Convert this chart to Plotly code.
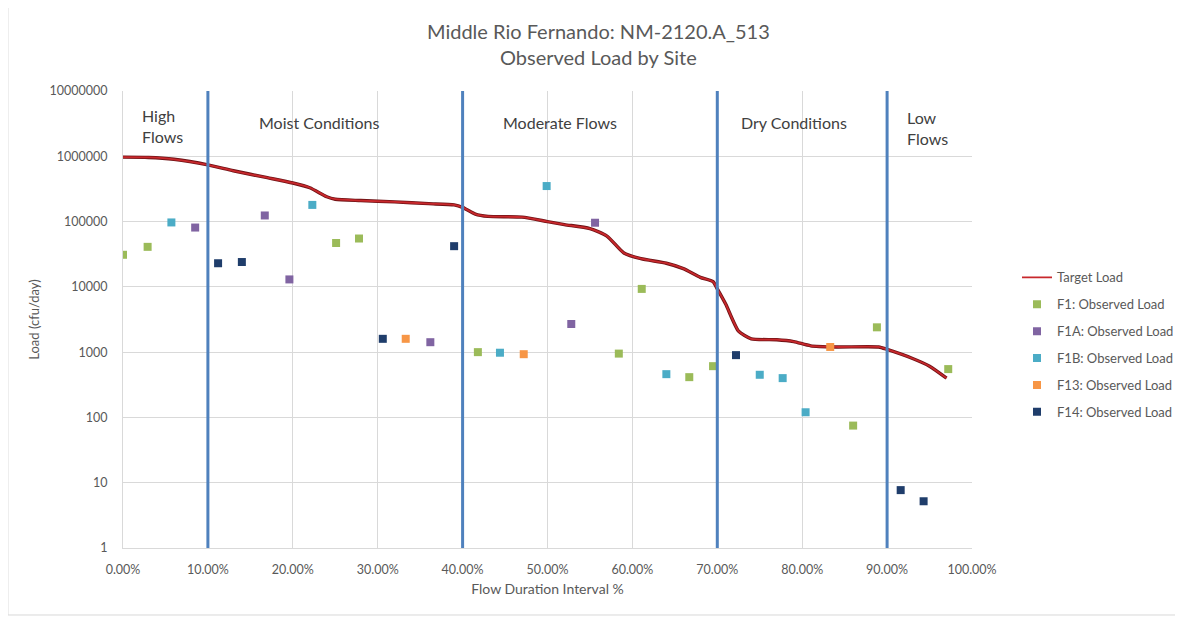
import math
import plotly.graph_objects as go

# ---- data ----
target_x = [0.0, 0.03, 0.06, 0.10, 0.13, 0.17, 0.20, 0.22, 0.24, 0.25, 0.28, 0.32, 0.36, 0.39,
            0.40, 0.415, 0.43, 0.47, 0.50, 0.52, 0.55, 0.57, 0.59, 0.61, 0.64, 0.66, 0.68,
            0.695, 0.70, 0.71, 0.725, 0.74, 0.77, 0.79, 0.81, 0.84, 0.89, 0.90, 0.93, 0.95, 0.97]
target_y = [970000, 960000, 900000, 740000, 600000, 470000, 390000, 330000, 240000, 220000,
            210000, 200000, 188000, 180000, 165000, 130000, 120000, 117000, 100000, 90000,
            78000, 60000, 33000, 27000, 23000, 19000, 14000, 12000, 9300, 5400, 2100, 1600,
            1550, 1450, 1250, 1200, 1200, 1100, 800, 610, 400]

f1_x = [0.0, 0.029, 0.251, 0.278, 0.418, 0.584, 0.611, 0.667, 0.695, 0.86, 0.888, 0.972]
f1_y = [31000, 41000, 47000, 55000, 1000, 950, 9300, 414, 610, 75, 2400, 550]

f1a_x = [0.085, 0.167, 0.196, 0.362, 0.528, 0.556]
f1a_y = [81000, 124000, 13000, 1420, 2700, 96000]

f1b_x = [0.057, 0.223, 0.444, 0.499, 0.64, 0.75, 0.777, 0.804]
f1b_y = [97000, 180000, 980, 350000, 460, 450, 400, 120]

f13_x = [0.333, 0.472, 0.833]
f13_y = [1600, 930, 1200]

f14_x = [0.112, 0.14, 0.306, 0.39, 0.722, 0.916, 0.943]
f14_y = [23000, 24000, 1600, 42000, 900, 7.7, 5.2]

boundaries = [0.10, 0.40, 0.70, 0.90]
region_labels = ["High<br>Flows", "Moist Conditions", "Moderate Flows", "Dry Conditions", "Low<br>Flows"]

y_tickvals = [1, 10, 100, 1000, 10000, 100000, 1000000, 10000000]
y_ticktext = ["1", "10", "100", "1000", "10000", "100000", "1000000", "10000000"]
x_tickvals = [i / 10 for i in range(11)]
x_ticktext = ["0.00%", "10.00%", "20.00%", "30.00%", "40.00%", "50.00%", "60.00%",
              "70.00%", "80.00%", "90.00%", "100.00%"]

# ---- layout positions (not data) ----
region_label_x = [0.047, 0.231, 0.515, 0.79, 0.948]
region_label_logy = [6.46, 6.51, 6.51, 6.51, 6.44]

FONT = "Lato, Carlito, Calibri, sans-serif"
GRAY = "#595959"

fig = go.Figure()

fig.add_trace(go.Scatter(x=target_x, y=target_y, mode="lines", name="Target Load",
                         line=dict(color="#6e1215", width=3.4, shape="spline", smoothing=0.6),
                         showlegend=False, hoverinfo="skip"))
fig.add_trace(go.Scatter(x=target_x, y=target_y, mode="lines", name="Target Load",
                         line=dict(color="#C8282C", width=1.8, shape="spline", smoothing=0.6),
                         legendgroup="t"))

series = [
    ("F1: Observed Load", f1_x, f1_y, "#9BBB59"),
    ("F1A: Observed Load", f1a_x, f1a_y, "#8064A2"),
    ("F1B: Observed Load", f1b_x, f1b_y, "#4BACC6"),
    ("F13: Observed Load", f13_x, f13_y, "#F79646"),
    ("F14: Observed Load", f14_x, f14_y, "#1F3D6B"),
]
for name, xs, ys, col in series:
    fig.add_trace(go.Scatter(x=xs, y=ys, mode="markers", name=name, legendgroup=name,
                             marker=dict(symbol="square", size=8, color=col)))

for b in boundaries:
    fig.add_shape(type="line", x0=b, x1=b, y0=0, y1=1, xref="x", yref="paper",
                  line=dict(color="#4F81BD", width=3))

for txt, xl, yl in zip(region_labels, region_label_x, region_label_logy):
    fig.add_annotation(x=xl, y=yl, xref="x", yref="y", text=txt, showarrow=False,
                       font=dict(family=FONT, size=16, color="#404040"),
                       align="left" if "<br>" in txt else "center")

# title (two lines as annotations for exact spacing)
fig.add_annotation(x=0.5595, y=1.162, xref="paper", yref="paper", showarrow=False,
                   text="Middle Rio Fernando: NM-2120.A_513",
                   font=dict(family=FONT, size=20, color=GRAY))
fig.add_annotation(x=0.5595, y=1.105, xref="paper", yref="paper", showarrow=False,
                   text="Observed Load by Site",
                   font=dict(family=FONT, size=20, color=GRAY))

# outer chart border
fig.add_shape(type="rect", xref="paper", yref="paper",
              x0=-0.1355, x1=1.2426, y0=-0.1466, y1=1.25,
              line=dict(color="#D9D9D9", width=1))

fig.update_layout(
    width=1183, height=617,
    margin=dict(l=115, r=219, t=83, b=77),
    paper_bgcolor="white", plot_bgcolor="white",
    font=dict(family=FONT, color=GRAY),
    legend=dict(x=1.053, y=0.625, xanchor="left", yanchor="top",
                font=dict(family=FONT, size=13, color=GRAY),
                tracegroupgap=7, bgcolor="rgba(0,0,0,0)"),
    showlegend=True,
)
fig.update_xaxes(range=[0, 1], tickvals=x_tickvals, ticktext=x_ticktext,
                 showgrid=True, gridcolor="#D9D9D9", gridwidth=1, zeroline=False,
                 showline=True, linecolor="#D9D9D9",
                 ticks="outside", ticklen=10, tickcolor="rgba(0,0,0,0)",
                 tickfont=dict(family=FONT, size=12.5, color=GRAY),
                 title=dict(text="Flow Duration Interval %", standoff=8,
                            font=dict(family=FONT, size=14, color=GRAY)))
fig.update_yaxes(type="log", range=[0, 7], tickvals=y_tickvals, ticktext=y_ticktext,
                 showgrid=True, gridcolor="#D9D9D9", gridwidth=1, zeroline=False,
                 showline=True, linecolor="#D9D9D9",
                 ticks="outside", ticklen=12, tickcolor="rgba(0,0,0,0)",
                 tickfont=dict(family=FONT, size=12.5, color=GRAY),
                 title=dict(text="Load (cfu/day)", standoff=6,
                            font=dict(family=FONT, size=13, color=GRAY)))

fig.write_html("out.html")
